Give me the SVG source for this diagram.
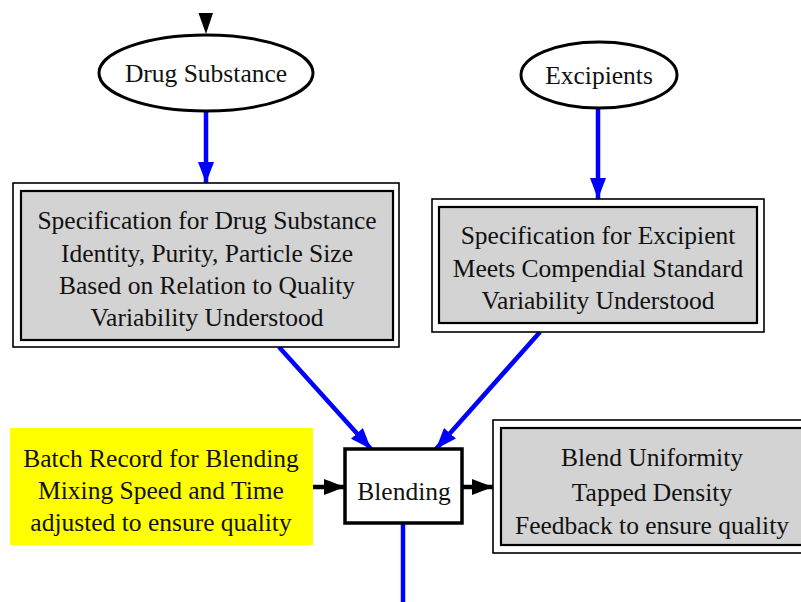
<svg xmlns="http://www.w3.org/2000/svg" width="801" height="602" viewBox="0 0 801 602">
<style>
text{font-family:"Liberation Serif","Times New Roman",serif;font-size:25.5px;fill:#111;text-anchor:middle}
.ell{fill:#fff;stroke:#000;stroke-width:3}
.outer{fill:#fff;stroke:#000;stroke-width:1.6}
.inner{fill:#d3d3d3;stroke:#000;stroke-width:2.2}
.blue{stroke:#0000ff;stroke-width:4.5;fill:none}
.blk{stroke:#000;stroke-width:4.5;fill:none}
</style>
<defs>
<marker id="ab" markerUnits="userSpaceOnUse" markerWidth="22" markerHeight="16" refX="21" refY="8" orient="auto">
<path d="M0,0 L21,8 L0,16 Z" fill="#0000ff"/>
</marker>
<marker id="ak" markerUnits="userSpaceOnUse" markerWidth="22" markerHeight="16" refX="21" refY="8" orient="auto">
<path d="M0,0 L21,8 L0,16 Z" fill="#000"/>
</marker>
</defs>
<g id="connectors">
<path d="M198.5,13 L213,13 L206,34 Z" fill="#000"/>
<path class="blue" d="M206,112 V183" marker-end="url(#ab)"/>
<path class="blue" d="M598,108 V199" marker-end="url(#ab)"/>
<path class="blue" d="M279,347 L371,449" marker-end="url(#ab)"/>
<path class="blue" d="M540,332 L436,449" marker-end="url(#ab)"/>
<path class="blk" d="M313,487 H345" marker-end="url(#ak)"/>
<path class="blk" d="M462,487 H493" marker-end="url(#ak)"/>
<path class="blue" d="M403,523 V602"/>
</g>
<g id="drug_substance">
<ellipse class="ell" cx="206" cy="73" rx="107" ry="38"/>
<text x="206" y="82">Drug Substance</text>
</g>
<g id="excipients">
<ellipse class="ell" cx="599" cy="75" rx="78" ry="33"/>
<text x="599" y="84">Excipients</text>
</g>
<g id="spec_drug">
<rect class="outer" x="13" y="183" width="386" height="164"/>
<rect class="inner" x="21" y="191" width="372" height="149"/>
<text x="207" y="229">Specification for Drug Substance</text>
<text x="207" y="262">Identity, Purity, Particle Size</text>
<text x="207" y="294">Based on Relation to Quality</text>
<text x="207" y="326">Variability Understood</text>
</g>
<g id="spec_excipient">
<rect class="outer" x="432" y="199" width="332" height="133"/>
<rect class="inner" x="439" y="207" width="318" height="116"/>
<text x="598" y="244">Specification for Excipient</text>
<text x="598" y="277">Meets Compendial Standard</text>
<text x="598" y="309">Variability Understood</text>
</g>
<g id="batch_record">
<rect x="10" y="428" width="303" height="117" fill="#ffff00"/>
<text x="161" y="467">Batch Record for Blending</text>
<text x="161" y="499">Mixing Speed and Time</text>
<text x="161" y="531">adjusted to ensure quality</text>
</g>
<g id="blending">
<rect x="345" y="449" width="117" height="74" fill="#fff" stroke="#000" stroke-width="3.5"/>
<text x="404" y="500">Blending</text>
</g>
<g id="blend_uniformity">
<rect class="outer" x="493" y="420" width="320" height="133"/>
<rect class="inner" x="501" y="428" width="304" height="117"/>
<text x="652" y="466">Blend Uniformity</text>
<text x="652" y="501">Tapped Density</text>
<text x="652" y="534">Feedback to ensure quality</text>
</g>
</svg>
